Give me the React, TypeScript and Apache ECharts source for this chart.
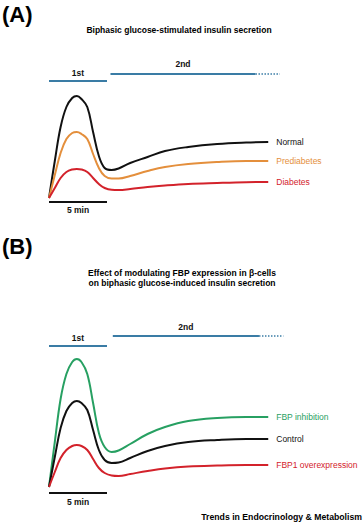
import React, { useEffect, useRef } from "react";
import * as echarts from "echarts";

// time axis (minutes after glucose stimulation)
const timeMin = [0, 0.5, 1.0, 1.5, 2.0, 2.4, 2.8, 3.3, 3.8, 4.3, 4.8, 5.4, 6.0, 7.0, 8.5, 10, 12, 14.5, 17, 18.9];

// Panel A (arbitrary insulin secretion units)
const normal = [0, 37, 71, 91, 100, 102, 99, 91, 66, 42, 30, 28, 29.5, 35, 41, 47, 51, 54, 55.5, 56];
const prediabetes = [0, 23, 45, 59, 65, 66, 64, 59, 44, 30, 22, 19.5, 19.5, 22, 27, 31, 34, 36, 37, 37];
const diabetes = [0, 10, 20, 26, 28.5, 29, 28.5, 26, 20, 14, 10, 8.2, 8, 9, 11, 12.5, 14, 15, 15.8, 16];

// Panel B
const fbpInhibition = [0, 45, 88, 113, 125, 128, 125, 113, 84, 54, 40, 35, 36.5, 43, 53, 60, 66, 69, 70, 70];
const control = [0, 30, 59, 76, 84, 86, 84, 77, 57, 37, 27, 24, 24.5, 29, 36, 41, 45, 47, 48, 48];
const fbp1Over = [0, 15, 29, 37, 41, 42, 41, 37, 28, 19, 14, 11.5, 11, 13, 16, 18.5, 20.5, 21.5, 22, 22];

// phase spans (minutes)
const phaseLabels = ["1st", "2nd"];
const phase1 = [0, 5];
const phase2A = [5.3, 17.8];
const phase2AExt = [17.8, 19.9];
const phase2B = [5.5, 18.1];
const phase2BExt = [18.1, 20.2];
const scaleBar = [0, 5];
const scaleLabel = "5 min";

const BLUE = "#3a7ca5";
const FONT = "Liberation Sans, Arial, sans-serif";

function curve(name: string, vals: number[], color: string, idx: number) {
  return {
    type: "line",
    name,
    xAxisIndex: idx,
    yAxisIndex: idx,
    data: timeMin.map((t, i) => [t, vals[i]]),
    smooth: 0.4,
    symbol: "none",
    lineStyle: { color, width: 2 },
    endLabel: {
      show: true,
      formatter: name,
      color,
      fontSize: 8.5,
      fontFamily: FONT,
      distance: 8,
    },
    z: 3,
  };
}

function segment(span: number[], level: number, color: string, idx: number, label?: string, below?: boolean, dotted?: boolean, dist = 3) {
  const mid = (span[0] + span[1]) / 2;
  const data: any[] = [[span[0], level]];
  if (label) {
    data.push({
      value: [mid, level],
      symbol: "circle",
      symbolSize: 0.1,
      label: {
        show: true,
        formatter: label,
        position: below ? "bottom" : "top",
        distance: dist,
        color: "#111",
        fontSize: 8.5,
        fontWeight: "bold",
        fontFamily: FONT,
      },
    });
  }
  data.push([span[1], level]);
  return {
    type: "line",
    xAxisIndex: idx,
    yAxisIndex: idx,
    data,
    symbol: "none",
    showSymbol: true,
    lineStyle: { color, width: dotted ? 1.5 : 2, type: dotted ? [1.5, 1.5] : "solid" },
    silent: true,
  };
}

export default function App() {
  const ref = useRef<HTMLDivElement>(null);
  useEffect(() => {
    document.body.style.margin = "0";
    const chart = echarts.init(ref.current!, null, { renderer: "svg" });
    const xAx = (gi: number) => ({ type: "value", gridIndex: gi, min: 0, max: 21, show: false });
    chart.setOption({
      animation: false,
      backgroundColor: "#fff",
      grid: [
        { left: 49, top: 68, width: 243.6, height: 140 },
        { left: 49, top: 327, width: 243.6, height: 170 },
      ],
      xAxis: [xAx(0), xAx(1)],
      yAxis: [
        { type: "value", gridIndex: 0, min: -10, max: 130, show: false },
        { type: "value", gridIndex: 1, min: -10, max: 160, show: false },
      ],
      graphic: [
        { type: "text", left: 2, top: 3, style: { text: "(A)", font: `bold 22px ${FONT}`, fill: "#000" } },
        { type: "text", left: 2, top: 235, style: { text: "(B)", font: `bold 22px ${FONT}`, fill: "#000" } },
        {
          type: "text", x: 179, y: 30,
          style: { text: "Biphasic glucose-stimulated insulin secretion", font: `bold 8.5px ${FONT}`, fill: "#000", align: "center", verticalAlign: "middle" },
        },
        {
          type: "text", x: 182, y: 278,
          style: {
            text: "Effect of modulating FBP expression in β-cells\non biphasic glucose-induced insulin secretion",
            font: `bold 8.5px ${FONT}`, fill: "#000", align: "center", verticalAlign: "middle", lineHeight: 10.5,
          },
        },
        {
          type: "text", x: 362, y: 517,
          style: { text: "Trends in Endocrinology & Metabolism", font: `bold 8.7px ${FONT}`, fill: "#000", align: "right", verticalAlign: "middle" },
        },
      ],
      series: [
        curve("Normal", normal, "#111111", 0),
        curve("Prediabetes", prediabetes, "#e48f3c", 0),
        curve("Diabetes", diabetes, "#d3222b", 0),
        segment(phase1, 117, BLUE, 0, phaseLabels[0]),
        segment(phase2A, 124, BLUE, 0, phaseLabels[1], false, false, 5),
        segment(phase2AExt, 124, BLUE, 0, undefined, false, true),
        segment(scaleBar, -4, "#111", 0, scaleLabel, true, false, 3),

        curve("FBP inhibition", fbpInhibition, "#27a062", 1),
        curve("Control", control, "#111111", 1),
        curve("FBP1 overexpression", fbp1Over, "#d3222b", 1),
        segment(phase1, 141, BLUE, 1, phaseLabels[0]),
        segment(phase2B, 151, BLUE, 1, phaseLabels[1], false, false, 4),
        segment(phase2BExt, 151, BLUE, 1, undefined, false, true),
        segment(scaleBar, -6, "#111", 1, scaleLabel, true, false, 4),
      ],
    });
    return () => chart.dispose();
  }, []);
  return <div ref={ref} style={{ width: 364, height: 524 }} />;
}
